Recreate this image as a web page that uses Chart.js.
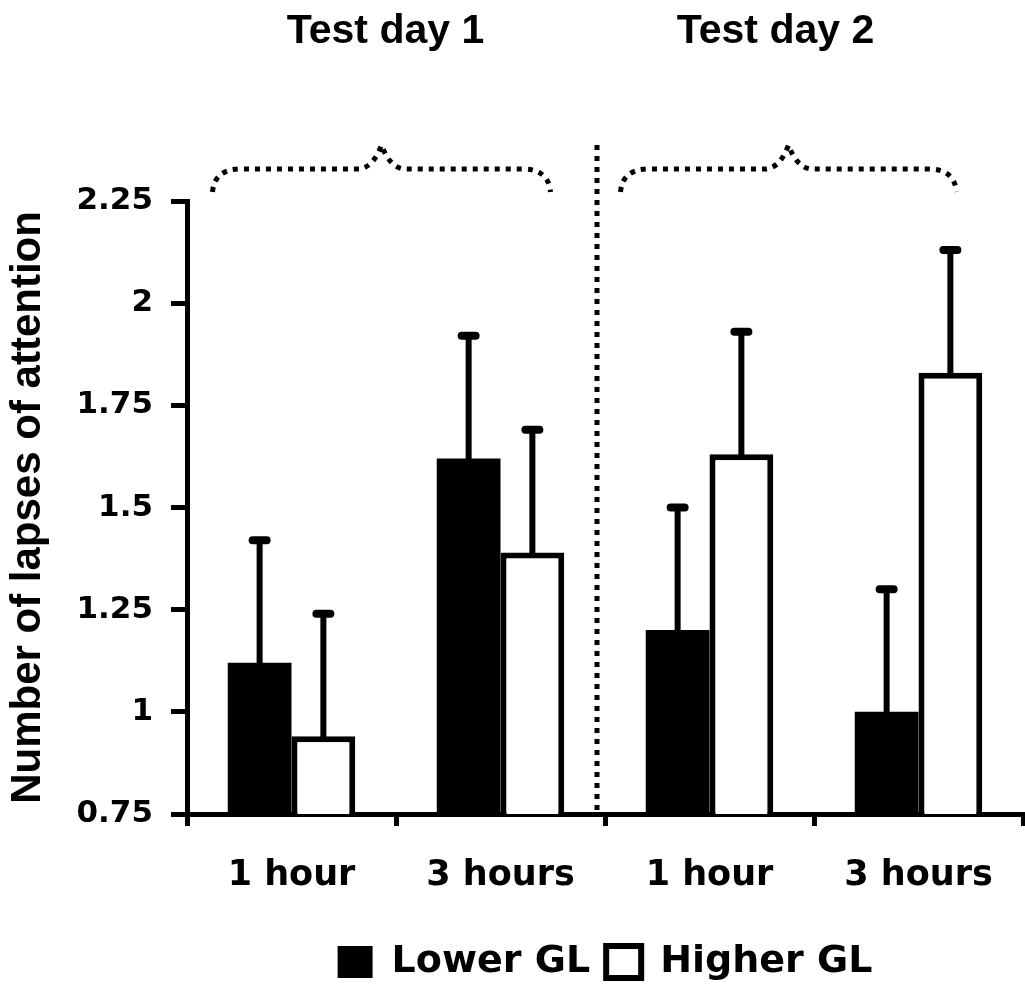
<!DOCTYPE html>
<html>
<head>
<meta charset="utf-8">
<title>Lapses of attention</title>
<script src="https://cdn.jsdelivr.net/npm/chart.js@4.4.1/dist/chart.umd.min.js"></script>
<style>
    html, body { margin: 0; padding: 0; background: #fff; }
    #wrap { width: 1025px; height: 991px; }
</style>
</head>
<body>
<div id="wrap"><canvas id="graphique"></canvas></div>
<script>
// Données
const categories = ["1 hour", "3 hours", "1 hour", "3 hours"]
const days = ["Test day 1", "Test day 2"]
const lowerGL = [1.12, 1.62, 1.20, 1.00]
const higherGL = [0.94, 1.39, 1.63, 1.83]
const lowerErr = [0.30, 0.30, 0.30, 0.30]
const higherErr = [0.30, 0.30, 0.30, 0.30]
const yTicks = [0.75, 1, 1.25, 1.5, 1.75, 2, 2.25]

const labelFont = "'DejaVu Sans', sans-serif"
const titleFont = "'Liberation Sans', Arial, sans-serif"

// barres d'erreur (vers le haut seulement)
const errorBars = {
    id: "errorBars",
    afterDatasetsDraw(chart) {
        const ctx = chart.ctx
        const y = chart.scales.y
        chart.data.datasets.forEach((ds, i) => {
            const meta = chart.getDatasetMeta(i)
            meta.data.forEach((bar, j) => {
                const top = y.getPixelForValue(ds.data[j] + ds.errors[j])
                ctx.save()
                ctx.strokeStyle = "#000"
                ctx.lineCap = "round"
                ctx.lineWidth = 6
                ctx.beginPath()
                ctx.moveTo(bar.x, bar.y)
                ctx.lineTo(bar.x, top)
                ctx.stroke()
                ctx.lineWidth = 8
                ctx.beginPath()
                ctx.moveTo(bar.x - 7, top)
                ctx.lineTo(bar.x + 7, top)
                ctx.stroke()
                ctx.restore()
            })
        })
    }
}

// la légende est centrée sous la zone du graphique, pas sous le canvas
const legendUnderPlot = {
    id: "legendUnderPlot",
    afterLayout(chart) {
        const legend = chart.legend
        legend.left = chart.chartArea.left
        legend.right = chart.chartArea.right
        legend.width = legend.right - legend.left
    }
}

// accolades pointillées, séparateur et titres des jours
const decorations = {
    id: "decorations",
    afterDraw(chart) {
        const ctx = chart.ctx
        const x = chart.scales.x
        const area = chart.chartArea
        const yEnd = area.top - 9
        const yFlat = area.top - 32
        const yPeak = area.top - 56
        const braceLeft = [-79, -89]
        const braceRight = [50, 38]
        const titleShift = [4, -13]

        ctx.save()
        ctx.strokeStyle = "#000"
        ctx.lineWidth = 5
        ctx.setLineDash([5, 6])

        // ligne verticale entre les deux jours
        const sep = (x.getPixelForValue(1) + x.getPixelForValue(2)) / 2 - 8
        ctx.beginPath()
        ctx.moveTo(sep, yPeak)
        ctx.lineTo(sep, area.bottom - 3)
        ctx.stroke()

        for (let d = 0; d < days.length; d++) {
            const x0 = x.getPixelForValue(d * 2) + braceLeft[d]
            const x1 = x.getPixelForValue(d * 2 + 1) + braceRight[d]
            const mid = (x0 + x1) / 2

            ctx.beginPath()
            ctx.moveTo(x0, yEnd)
            ctx.quadraticCurveTo(x0 + 2, yFlat, x0 + 28, yFlat)
            ctx.lineTo(mid - 22, yFlat)
            ctx.quadraticCurveTo(mid - 8, yFlat - 2, mid, yPeak)
            ctx.quadraticCurveTo(mid + 8, yFlat - 2, mid + 22, yFlat)
            ctx.lineTo(x1 - 28, yFlat)
            ctx.quadraticCurveTo(x1 - 2, yFlat, x1, yEnd)
            ctx.stroke()

            ctx.fillStyle = "#000"
            ctx.font = "bold 41px " + titleFont
            ctx.textAlign = "center"
            ctx.textBaseline = "alphabetic"
            ctx.fillText(days[d], mid + titleShift[d], 43)
        }
        ctx.restore()
    }
}

const data = {
    labels: categories,
    datasets: [{
        label: "Lower GL",
        data: lowerGL,
        errors: lowerErr,
        backgroundColor: "#000",
        borderColor: "#000",
        borderWidth: 0,
    }, {
        label: "Higher GL",
        data: higherGL,
        errors: higherErr,
        backgroundColor: "#fff",
        borderColor: "#000",
        borderWidth: 6,
    }]
}

const config = {
    type: "bar",
    data: data,
    options: {
        responsive: true,
        maintainAspectRatio: false,
        animation: false,
        datasets: {
            bar: { categoryPercentage: 0.61, barPercentage: 1 }
        },
        layout: {
            padding: { top: 201, right: 2, bottom: 0, left: 0 }
        },
        plugins: {
            tooltip: { enabled: false },
            legend: {
                position: "bottom",
                labels: {
                    color: "#000",
                    boxWidth: 35,
                    boxHeight: 32,
                    padding: 16,
                    font: { family: labelFont, size: 38, weight: "bold" }
                }
            }
        },
        scales: {
            x: {
                afterFit: (scale) => { scale.height = 113 },
                grid: {
                    display: true,
                    drawOnChartArea: false,
                    offset: true,
                    lineWidth: 5,
                    tickLength: 12,
                    tickWidth: 5,
                    tickColor: "#000"
                },
                border: { display: true, color: "#000", width: 5 },
                ticks: {
                    color: "#000",
                    padding: 29,
                    font: { family: labelFont, size: 35, weight: "bold" }
                }
            },
            y: {
                min: yTicks[0],
                max: yTicks[yTicks.length - 1],
                afterFit: (scale) => { scale.width = 187 },
                afterBuildTicks: (scale) => { scale.ticks = yTicks.map(v => ({ value: v })) },
                grid: {
                    display: true,
                    drawOnChartArea: false,
                    lineWidth: 5,
                    tickLength: 16,
                    tickWidth: 5,
                    tickColor: "#000"
                },
                border: { display: true, color: "#000", width: 5 },
                ticks: {
                    color: "#000",
                    padding: 18,
                    font: { family: labelFont, size: 31, weight: "bold" },
                    callback: (v) => String(v)
                },
                title: {
                    display: true,
                    text: "Number of lapses of attention",
                    color: "#000",
                    padding: { top: 3, bottom: 0 },
                    font: { family: titleFont, size: 42, weight: "bold" }
                }
            }
        }
    },
    plugins: [errorBars, legendUnderPlot, decorations]
}

const graphique = new Chart(document.querySelector("#graphique"), config)
</script>
</body>
</html>
